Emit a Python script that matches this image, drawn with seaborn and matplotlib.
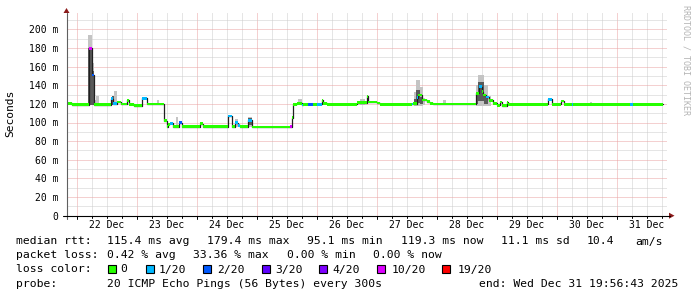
import matplotlib
matplotlib.use("Agg")
import matplotlib.pyplot as plt
from matplotlib.patches import Rectangle, Polygon
import numpy as np
import pandas as pd
import seaborn as sns

# ---------------- data (time = hours since 22 Dec 00:00) ----------------
seg_start_h = [-4.0, -1.8, 4.9, 6.2, 6.9, 13.9, 14.7, 16.1, 17.9, 20.2, 20.9, 22.9, 26.2, 28.2,
               34.9, 36.2, 36.6, 37.4, 38.7, 41.1, 42.1, 49.4, 50.7, 60.7, 62.1, 63.4, 64.7, 65.4,
               68.7, 70.1, 85.4, 86.1, 86.7, 88.1, 90.1, 90.7, 92.7, 94.7, 96.1, 98.1, 98.7, 100.1,
               112.1, 116.1, 116.7, 120.1, 121.4, 134.1, 134.7, 136.1, 136.7, 138.1, 140.1, 141.4,
               142.7, 159.8, 160.8, 162.1, 162.7, 163.8, 165.1, 166.7, 168.1, 169.4, 170.1, 172.1,
               172.7, 188.5, 190.1, 193.8, 195.0, 198.1, 198.7, 221.4, 222.7]
seg_median_ms = [120.6, 119.1, 179.4, 151.0, 119.0, 125.5, 120.0, 122.0, 119.8, 124.0, 119.5, 118.0, 126.0, 119.8,
                 102.0, 95.5, 98.0, 99.0, 95.5, 100.0, 95.5, 98.5, 95.5, 107.0, 95.5, 100.0, 97.0, 95.5,
                 102.5, 95.2, 95.5, 105.0, 119.5, 120.5, 118.8, 119.7, 119.7, 119.7, 119.7, 124.0, 120.5, 119.7,
                 121.3, 128.0, 122.0, 121.0, 119.7, 119.8, 120.2, 126.6, 129.5, 124.1, 122.3, 120.6,
                 119.8, 131.3, 138.4, 133.0, 129.5, 127.4, 124.0, 120.6, 118.5, 122.0, 118.0, 121.5,
                 119.6, 125.0, 119.5, 123.0, 119.5, 119.5, 119.5, 119.5, 119.5]
seg_loss = [0, 0, 5, 2, 0, 1, 1, 0, 0, 0, 0, 0, 1, 0,
            0, 0, 0, 1, 0, 2, 0, 0, 0, 1, 0, 1, 1, 0,
            1, 0, 5, 0, 0, 0, 1, 0, 2, 0, 1, 0, 0, 0,
            0, 0, 0, 0, 0, 1, 0, 1, 0, 0, 0, 0,
            0, 0, 1, 0, 0, 1, 0, 0, 0, 0, 0, 0,
            0, 1, 0, 0, 0, 1, 0, 1, 0]
series_end_h = 234.7

# smoke (spread of the 20 pings): outer range and dense core
smoke_start_h = [4.7, 6.3, 7.0, 7.8, 14.1, 15.1, 32.3, 39.8, 63.4, 68.7, 88.7, 113.4,
                 135.1, 135.8, 137.4, 138.6, 146.6, 159.8, 160.6, 163.0, 164.6, 205.4]
smoke_end_h = [6.3, 7.0, 7.8, 8.9, 15.1, 16.1, 33.0, 40.6, 64.6, 70.1, 90.1, 115.4,
               135.8, 137.4, 138.6, 139.4, 147.8, 160.6, 163.0, 164.6, 165.8, 206.2]
smoke_lo_ms = [119, 119, 119, 119, 119, 119, 119, 95, 95, 95, 119, 119,
               118, 118, 118, 119, 119, 118, 118, 118, 118, 119]
smoke_hi_ms = [194, 163.5, 124, 128.4, 128, 133.8, 124, 105.5, 104, 106, 125, 125.5,
               133, 146, 138, 126, 124, 140, 151, 140, 128, 122]
core_start_h = [4.7, 6.3, 14.1, 68.7, 135.1, 135.8, 137.4, 159.8, 160.6, 163.0]
core_end_h = [6.3, 7.0, 15.1, 70.1, 135.8, 137.4, 138.6, 160.6, 163.0, 164.6]
core_lo_ms = [119, 119, 119, 97, 119, 121, 120, 120, 123, 120]
core_hi_ms = [180, 155, 128, 105, 125, 135, 127, 130, 143, 128]

loss_labels = ["0", "1/20", "2/20", "3/20", "4/20", "10/20", "19/20"]
loss_colors = ["#26ff00", "#00b8ff", "#0059ff", "#5e00ff", "#7e00ff", "#dd00ff", "#ff0000"]

day_labels = ["22 Dec", "23 Dec", "24 Dec", "25 Dec", "26 Dec", "27 Dec", "28 Dec", "29 Dec", "30 Dec", "31 Dec"]
y_ticks_ms = [0, 20, 40, 60, 80, 100, 120, 140, 160, 180, 200]
y_tick_labels = ["0", "20 m", "40 m", "60 m", "80 m", "100 m", "120 m", "140 m", "160 m", "180 m", "200 m"]

rtt_items = ["median rtt:", "115.4 ms avg", "179.4 ms max", "95.1 ms min", "119.3 ms now", "11.1 ms sd", "10.4", "am/s"]
loss_items = ["packet loss:", "0.42 % avg", "33.36 % max", "0.00 % min", "0.00 % now"]
probe_items = ["probe:", "20 ICMP Echo Pings (56 Bytes) every 300s", "end: Wed Dec 31 19:56:43 2025"]

# ---------------- figure ----------------
sns.set_theme(style="white")
plt.rcParams['font.family'] = ['DejaVu Sans Mono', 'DejaVu Sans']
plt.rcParams['lines.scale_dashes'] = False

W, H = 697, 297
fig = plt.figure(figsize=(W / 100, H / 100), dpi=100)
fig.patch.set_facecolor("white")
px0, px1 = 66.5, 666.5
py0, py1 = 215.7, 13.0
ax = fig.add_axes([px0 / W, 1 - py0 / H, (px1 - px0) / W, (py0 - py1) / H])
t_min, t_max = -4.0, 236.0
ymax = (py0 - py1) / 0.932
ax.set_xlim(t_min, t_max)
ax.set_ylim(0, ymax)
ax.set_facecolor("white")
for s in ax.spines.values():
    s.set_visible(False)

dots = (0, (0.72, 0.72))
for h in range(0, int(t_max) + 1, 6):
    c = "#eaa3a3" if h % 24 == 0 else "#cccccc"
    ax.axvline(h, color=c, lw=0.72, ls=dots, zorder=0, snap=True)
for v in range(10, int(ymax) + 1, 10):
    c = "#eaa3a3" if v % 20 == 0 else "#cccccc"
    ax.axhline(v, color=c, lw=0.72, ls=dots, zorder=0, snap=True)

# smoke
ax.bar(smoke_start_h, np.array(smoke_hi_ms) - np.array(smoke_lo_ms), bottom=smoke_lo_ms,
       width=np.array(smoke_end_h) - np.array(smoke_start_h), align="edge",
       color="#c4c4c4", linewidth=0, zorder=1)
ax.bar(core_start_h, np.array(core_hi_ms) - np.array(core_lo_ms), bottom=core_lo_ms,
       width=np.array(core_end_h) - np.array(core_start_h), align="edge",
       color="#5a5a5a", linewidth=0, zorder=1.5)

# median black line
line_df = pd.DataFrame({"t": seg_start_h + [series_end_h],
                        "ms": seg_median_ms + [seg_median_ms[-1]]})
sns.lineplot(data=line_df, x="t", y="ms", ax=ax, drawstyle="steps-post",
             color="#202020", lw=0.9, zorder=2, legend=False, estimator=None)

# loss-coloured median bands
ends = seg_start_h[1:] + [series_end_h]
sw = 1.5
ax.bar(seg_start_h, [2 * sw] * len(seg_start_h), bottom=np.array(seg_median_ms) - sw,
       width=np.array(ends) - np.array(seg_start_h), align="edge",
       color=[loss_colors[i] for i in seg_loss], linewidth=0, zorder=3)

ax.set_xticks([12 + 24 * i for i in range(len(day_labels))])
ax.set_xticklabels(day_labels)
ax.set_yticks(y_ticks_ms)
ax.set_yticklabels(y_tick_labels)
ax.tick_params(axis="x", length=0, pad=3.2, labelsize=7, colors="black")
ax.tick_params(axis="y", length=0, pad=5.9, labelsize=7, colors="black")
ax.set_xlabel("")
ax.set_ylabel("")

# ---------------- overlay in pixel coordinates ----------------
ov = fig.add_axes([0, 0, 1, 1], facecolor="none")
ov.set_xlim(0, W)
ov.set_ylim(H, 0)
ov.axis("off")

ov.plot([px0, px0], [219, 12.5], color="#606060", lw=0.8)
ov.plot([62.5, 669.5], [py0, py0], color="black", lw=0.8)
ov.add_patch(Polygon([(63.5, 13.0), (69.5, 13.0), (66.5, 8.0)], closed=True, color="#8b1a1a", lw=0))
ov.add_patch(Polygon([(669.0, 212.7), (669.0, 218.7), (674.5, 215.7)], closed=True, color="#8b1a1a", lw=0))
for h in range(0, int(t_max) + 1, 6):
    xx = px0 + (h - t_min) / (t_max - t_min) * (px1 - px0)
    ov.plot([xx, xx], [py0, py0 + (3 if h % 24 == 0 else 2)], color="black", lw=0.7)

ov.text(10, 113.5, "Seconds", rotation=90, ha="center", va="center", fontsize=8.1, color="black")
ov.text(686, 60, "RRDTOOL / TOBI OETIKER", rotation=-90, ha="center", va="center",
        fontsize=6, color="#b4b4b4")

fs = 8.2
rtt_x = [16, 107.3, 207.3, 306.7, 400.7, 500.7, 586.7, 635]
for x, t in zip(rtt_x, rtt_items):
    ov.text(x, 244.5, t, fontsize=fs, va="baseline", ha="left", color="black")
loss_x = [16, 107.3, 193.3, 286.7, 372.7]
for x, t in zip(loss_x, loss_items):
    ov.text(x, 258.5, t, fontsize=fs, va="baseline", ha="left", color="black")
ov.text(16, 272.5, "loss color:", fontsize=fs, va="baseline", ha="left", color="black")
box_x = [108, 146, 203, 262, 319.3, 377, 442]
lab_x = [120.7, 159, 216.7, 275.7, 332.3, 391.7, 457.3]
for bx, lx, lab, col in zip(box_x, lab_x, loss_labels, loss_colors):
    ov.add_patch(Rectangle((bx, 264.5), 7.5, 8, facecolor=col, edgecolor="black", lw=0.8))
    ov.text(lx, 272.5, lab, fontsize=fs, va="baseline", ha="left", color="black")
probe_x = [16, 107.3, 479]
for x, t in zip(probe_x, probe_items):
    ov.text(x, 286.7, t, fontsize=fs, va="baseline", ha="left", color="black")

fig.savefig("out.png", dpi=100)
